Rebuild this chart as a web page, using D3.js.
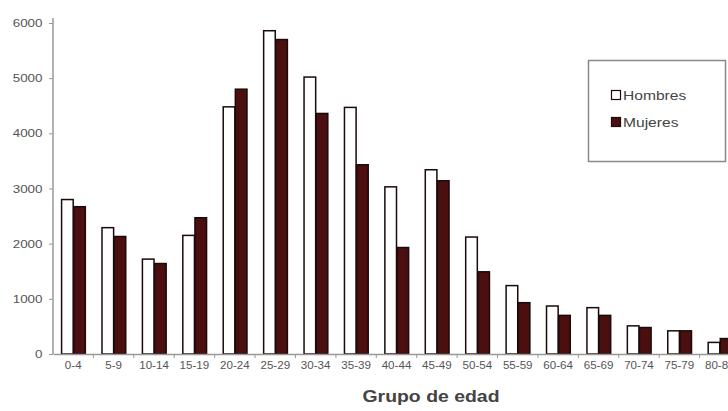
<!DOCTYPE html>
<html><head><meta charset="utf-8">
<script src="https://cdn.jsdelivr.net/npm/d3@7"></script>
<style>body{margin:0;background:#fff}svg{display:block;font-family:"Liberation Sans",Arial,sans-serif}</style>
</head><body>
<svg id="c" width="728" height="411"></svg>
<script>
const categories = ["0-4","5-9","10-14","15-19","20-24","25-29","30-34","35-39","40-44","45-49","50-54","55-59","60-64","65-69","70-74","75-79","80-84"];
const hombres = [2800,2290,1720,2150,4480,5860,5020,4470,3030,3340,2120,1240,870,840,510,420,210];
const mujeres = [2670,2130,1640,2470,4800,5700,4360,3430,1930,3140,1490,930,700,700,480,420,280];
const seriesNames = ["Hombres","Mujeres"];
const yTicks = [0,1000,2000,3000,4000,5000,6000];

(function(){
const svg = d3.select("#c");
const mLeft = 53, mRight = 740, mTop = 23, mBottom = 354;
const x = d3.scaleBand().domain(categories).range([mLeft, mRight]).paddingInner(0.4).paddingOuter(0.2);
const x1 = d3.scaleBand().domain(seriesNames).range([0, x.bandwidth()]);
const y = d3.scaleLinear().domain([0, 6000]).range([mBottom, mTop]);
const colors = {Hombres:"#ffffff", Mujeres:"#4c0f0f"};

const data = categories.map((c,i)=>({c, vals:[{k:"Hombres",v:hombres[i]},{k:"Mujeres",v:mujeres[i]}]}));
const g = svg.append("g");
g.selectAll("g.grp").data(data).join("g").attr("class","grp")
  .attr("transform", d=>`translate(${x(d.c)},0)`)
  .selectAll("rect").data(d=>d.vals).join("rect")
  .attr("x", d=>x1(d.k)+0.5).attr("width", x1.bandwidth()-0.5)
  .attr("y", d=>y(d.v)).attr("height", d=>mBottom-y(d.v))
  .attr("fill", d=>colors[d.k]).attr("stroke", "#1a0a0a").attr("stroke-width", 1.5);

const yAxis = svg.append("g").attr("transform",`translate(${mLeft},0)`)
  .call(d3.axisLeft(y).tickValues(yTicks).tickSize(4).tickPadding(6).tickFormat(d3.format("d")));
yAxis.select(".domain").attr("stroke","#999").attr("stroke-width",1.5).attr("d",`M0,${mBottom}V${mTop-5}`);
yAxis.selectAll(".tick line").attr("stroke","#999");
yAxis.selectAll("text").attr("fill","#555").attr("font-size",11)
  .attr("x", -10.5/1.22).attr("transform","scale(1.22,1)");

const xAxis = svg.append("g").attr("transform",`translate(0,${mBottom})`)
  .call(d3.axisBottom(x).tickSize(0).tickPadding(7));
xAxis.select(".domain").attr("stroke","#999").attr("stroke-width",1.5);
xAxis.selectAll("text").attr("fill","#555").attr("font-size",11.6);
svg.append("g").selectAll("line").data(categories.slice(1)).join("line")
  .attr("x1", d=>x(d)-x.step()*x.paddingInner()/2).attr("x2", d=>x(d)-x.step()*x.paddingInner()/2)
  .attr("y1", mBottom).attr("y2", mBottom+4).attr("stroke","#999");

svg.append("text").attr("x", 431).attr("y", 402).attr("text-anchor","middle")
  .attr("font-weight","bold").attr("font-size",16.5).attr("fill","#444")
  .attr("textLength",137).attr("lengthAdjust","spacingAndGlyphs").text("Grupo de edad");

const lg = svg.append("g");
lg.append("rect").attr("x",588.5).attr("y",60.5).attr("width",137).attr("height",101)
  .attr("fill","#fff").attr("stroke","#888").attr("stroke-width",1.5);
seriesNames.forEach((s,i)=>{
  const yy = 90 + i*27;
  lg.append("rect").attr("x",611.5).attr("y",yy+0.5).attr("width",9).attr("height",9)
    .attr("fill",colors[s]).attr("stroke","#1a0a0a").attr("stroke-width",1.2);
  lg.append("text").attr("x",623/1.2).attr("y",yy+10).attr("font-size",13).attr("fill","#444")
    .attr("transform","scale(1.2,1)").text(s);
});
})();
</script>
</body></html>
